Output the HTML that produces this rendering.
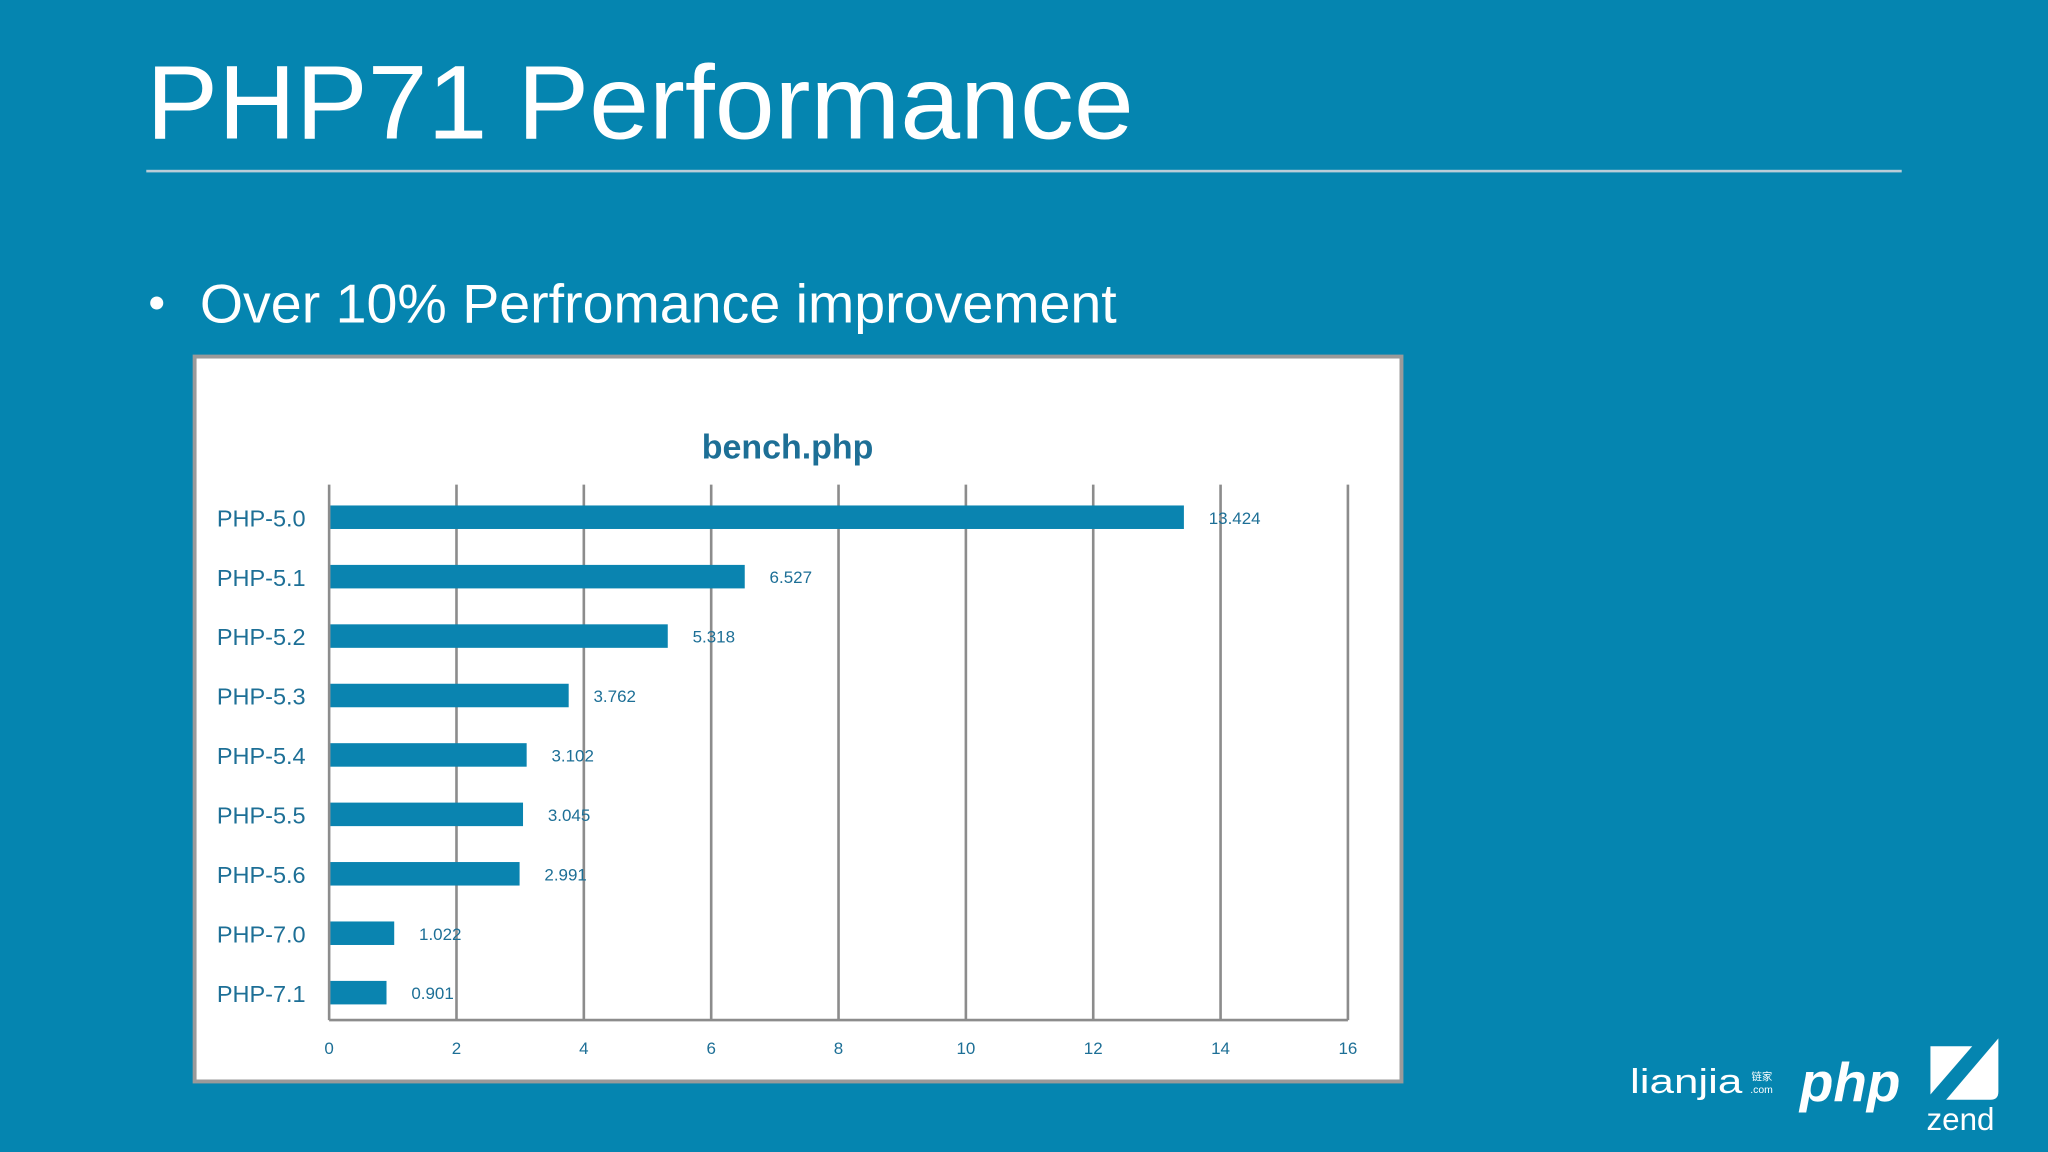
<!DOCTYPE html>
<html><head><meta charset="utf-8"><style>
html,body{margin:0;padding:0;background:#0585b0;}
svg{display:block;font-family:"Liberation Sans","Noto Sans CJK SC",sans-serif;}
</style></head><body>
<svg id="s" width="2048" height="1152" viewBox="0 0 1568 882" xmlns="http://www.w3.org/2000/svg">
<rect width="1568" height="882" fill="#0585b0"/>
<text x="112" y="106" font-size="80" fill="#fff" textLength="756" lengthAdjust="spacingAndGlyphs">PHP71 Performance</text>
<rect x="112" y="130" width="1344" height="2" fill="#b9cdd8"/>
<circle cx="120" cy="232" r="5" fill="#fff"/>
<text x="153" y="247" font-size="42" fill="#fff" textLength="702" lengthAdjust="spacingAndGlyphs">Over 10% Perfromance improvement</text>
<rect x="149" y="273" width="924" height="555" fill="#fff" stroke="#9a9a9a" stroke-width="3"/>
<text x="603" y="351" font-size="26" font-weight="bold" fill="#1d6f96" text-anchor="middle">bench.php</text>
<g id="chart"></g>
<g>
<text x="1248" y="837" font-size="26" fill="#fff" textLength="86" lengthAdjust="spacingAndGlyphs">lianjia</text>
<text x="1341" y="827" font-size="8" fill="#fff">链家</text>
<text x="1340" y="837" font-size="8" fill="#fff">.com</text>
<text x="1378" y="843" font-size="42" font-weight="bold" font-style="italic" fill="#fff">php</text>
<path d="M1478 801 L1510 801 L1478 838 Z" fill="#fff"/>
<path d="M1490 842 L1530 795 L1530 836 Q1530 842 1524 842 Z" fill="#fff"/>
<text x="1475" y="865" font-size="24" fill="#fff">zend</text>
</g>
</svg>
<script>
const categories=["PHP-5.0","PHP-5.1","PHP-5.2","PHP-5.3","PHP-5.4","PHP-5.5","PHP-5.6","PHP-7.0","PHP-7.1"];
const values=[13.424,6.527,5.318,3.762,3.102,3.045,2.991,1.022,0.901];
const valueLabels=["13.424","6.527","5.318","3.762","3.102","3.045","2.991","1.022","0.901"];
const ticks=[0,2,4,6,8,10,12,14,16];
const NS="http://www.w3.org/2000/svg";
const g=document.getElementById('chart');
const x0=252,x1=1032,yTop=371,yBot=781;
const xs=v=>x0+(v/16)*(x1-x0);
const y0=396,step=(760-396)/(categories.length-1);
const ys=i=>y0+i*step;
function mk(t,a){const e=document.createElementNS(NS,t);for(const k in a)e.setAttribute(k,a[k]);g.appendChild(e);return e;}
ticks.forEach(t=>{
 const l=mk('line',{x1:xs(t),x2:xs(t),y1:yTop,y2:yBot,stroke:'#8c8c8c','stroke-width':2});
 
 
 const tx=mk('text',{x:xs(t),y:807,'font-size':13,fill:'#1d6f96','text-anchor':'middle'});
 tx.textContent=t;
 
 
});
const ax=mk('line',{x1:x0,x2:x1,y1:yBot,y2:yBot,stroke:'#8c8c8c','stroke-width':2});


categories.forEach((c,i)=>{
 const y=ys(i);
 const b=mk('rect',{x:x0+1,y:y-9,width:xs(values[i])-x0-1,height:18,fill:'#0a84b0'});
 
 
 const l=mk('text',{x:166,y:y+7,'font-size':18,fill:'#1d6f96'});
 l.textContent=c;
 
 
 const v=mk('text',{x:xs(values[i])+19,y:y+5,'font-size':13,fill:'#1d6f96'});
 v.textContent=valueLabels[i];
 
 
});
</script>
</body></html>
